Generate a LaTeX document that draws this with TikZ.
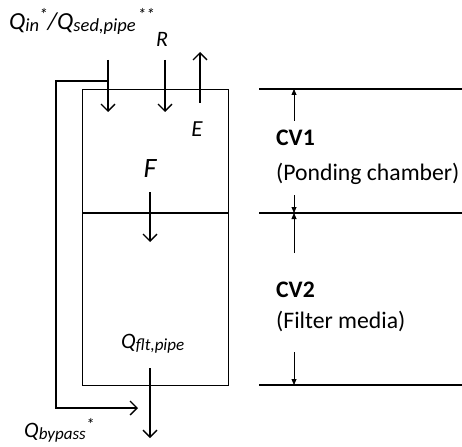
\documentclass[tikz,border=0pt]{standalone}
\usepackage{fontspec}
\setmainfont{Carlito}
\usetikzlibrary{arrows.meta}
\newcommand{\sbs}[1]{\raisebox{-2pt}{\fontsize{17}{17}\selectfont #1}}
\newcommand{\sps}[1]{\raisebox{7pt}{\fontsize{17}{17}\selectfont #1}}
\newcommand{\sbsL}[1]{\raisebox{-2pt}{\fontsize{18.5}{18.5}\selectfont #1}}
\newcommand{\spsL}[1]{\raisebox{9pt}{\fontsize{17}{17}\selectfont #1}}
\begin{document}
\begin{tikzpicture}[x=1pt,y=-1pt,
  wall/.style={line width=1.3pt},
  flow/.style={line width=1.3pt,-{Straight Barb[length=7pt,width=14pt,line width=1.3pt]}},
  dim/.style={line width=0.8pt,-{Triangle[length=6pt,width=5pt]}},
  lbl/.style={inner sep=0pt,font=\fontsize{22}{26}\selectfont\itshape},
  cv/.style={inner sep=0pt,anchor=base west,font=\fontsize{23.7}{27}\selectfont},
]
\useasboundingbox (0,0) rectangle (462,446);
% chamber box
\node[draw,wall,minimum width=146pt,minimum height=296pt,inner sep=0pt,anchor=north west] (box) at (82,89) {};
\coordinate (ml) at (82,213);
\coordinate (mr) at (228,213);
\draw[wall] (ml) -- (mr);
% inflow and bypass
\coordinate (qin0) at (108,60);
\coordinate (qin1) at (108,112);
\coordinate (bp0) at (108,81);
\coordinate (bp1) at (56,81);
\coordinate (bp2) at (56,408);
\coordinate (bp3) at (138,408);
\draw[flow] (qin0) -- (qin1);
\draw[flow] (bp0) -- (bp1) -- (bp2) -- (bp3);
% rain, evaporation
\coordinate (r0) at (165,60);
\coordinate (r1) at (165,112);
\draw[flow] (r0) -- (r1);
\coordinate (e0) at (200,103);
\coordinate (e1) at (200,52);
\draw[flow] (e0) -- (e1);
% infiltration
\coordinate (f0) at (150,192);
\coordinate (f1) at (150,242);
\draw[flow] (f0) -- (f1);
% outflow
\coordinate (o0) at (150,368);
\coordinate (o1) at (150,438);
\draw[flow] (o0) -- (o1);
% labels
\node[lbl,anchor=base west,font=\fontsize{24.5}{28}\selectfont\itshape] (lqin) at (9,30) {Q\sbsL{in}\spsL{*}/Q\sbsL{sed,pipe}\kern2pt\spsL{**}};
\node[lbl,anchor=base] (lr) at (162,47) {R};
\node[lbl,anchor=base,font=\fontsize{23}{27}\selectfont\itshape] (le) at (197,137) {E};
\node[lbl,anchor=base,font=\fontsize{28}{32}\selectfont\itshape] (lf) at (150,178) {F};
\node[lbl,anchor=base west] (lflt) at (121,348) {Q\sbs{flt,pipe}};
\node[lbl,anchor=base west] (lbp) at (24,437) {Q\sbs{bypass}\sps{*}};
% right side levels
\coordinate (h1a) at (259,89);  \coordinate (h1b) at (462,89);
\coordinate (h2a) at (259,213); \coordinate (h2b) at (462,213);
\coordinate (h3a) at (259,385); \coordinate (h3b) at (462,385);
\draw[wall] (h1a) -- (h1b);
\draw[wall] (h2a) -- (h2b);
\draw[wall] (h3a) -- (h3b);
\coordinate (d1s) at (294,121); \coordinate (d1e) at (294,89);
\coordinate (d2s) at (294,195); \coordinate (d2e) at (294,213);
\coordinate (d3s) at (294,253); \coordinate (d3e) at (294,213);
\coordinate (d4s) at (294,352); \coordinate (d4e) at (294,385);
\draw[dim] (d1s) -- (d1e);
\draw[dim] (d2s) -- (d2e);
\draw[dim] (d3s) -- (d3e);
\draw[dim] (d4s) -- (d4e);
\node[cv,font=\fontsize{23.7}{27}\selectfont\bfseries] (cv1) at (276,146) {CV1};
\node[cv] (cv1t) at (276,181) {(Ponding chamber)};
\node[cv,font=\fontsize{23.7}{27}\selectfont\bfseries] (cv2) at (276,297) {CV2};
\node[cv] (cv2t) at (276,328) {(Filter media)};
\end{tikzpicture}
\end{document}
